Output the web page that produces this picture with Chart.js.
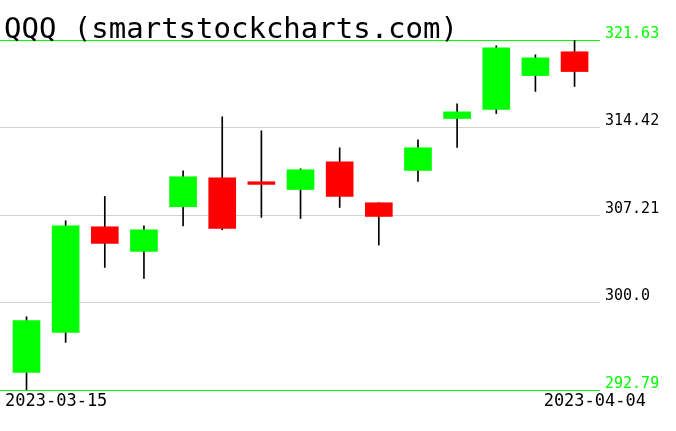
<!DOCTYPE html>
<html>
<head>
<meta charset="utf-8">
<script src="https://cdn.jsdelivr.net/npm/chart.js@4"></script>
<style>
  body { margin: 0; background: #fff; }
  #wrap { width: 676px; height: 431px; }
</style>
</head>
<body>
<div id="wrap"><canvas id="myChart" width="676" height="431"></canvas></div>
<script>
// daily candles, 2023-03-15 .. 2023-04-04
const dates = ['2023-03-15', '2023-03-16', '2023-03-17', '2023-03-20', '2023-03-21', '2023-03-22', '2023-03-23',
  '2023-03-24', '2023-03-27', '2023-03-28', '2023-03-29', '2023-03-30', '2023-03-31', '2023-04-03', '2023-04-04'];
const open  = [294.24, 297.53, 306.24, 304.21, 307.89, 310.28, 309.95, 309.31, 311.60, 308.22, 310.88, 315.16, 315.90, 318.70, 320.66];
const close = [298.50, 306.32, 304.87, 305.99, 310.36, 306.10, 309.73, 310.94, 308.74, 307.09, 312.75, 315.71, 320.99, 320.16, 319.03];
const high  = [298.83, 306.74, 308.74, 306.32, 310.85, 315.30, 314.15, 311.02, 312.75, 308.22, 313.41, 316.37, 321.15, 320.41, 321.63];
const low   = [292.79, 296.71, 302.89, 301.98, 306.32, 305.99, 307.01, 306.92, 307.83, 304.73, 309.97, 312.77, 315.57, 317.39, 317.80];
const yTicks = [292.79, 300.0, 307.21, 314.42, 321.63];
const yTickLabels = ['292.79', '300.0', '307.21', '314.42', '321.63'];

const GREEN = '#00ff00';
const RED = '#ff0000';

const ctx = document.getElementById('myChart');

const extraText = {
  id: 'extraText',
  afterDraw(chart) {
    const c = chart.ctx;
    c.save();
    c.fillStyle = '#000';
    c.textBaseline = 'alphabetic';
    c.font = '29px "DejaVu Sans Mono"';
    c.textAlign = 'left';
    c.fillText('QQQ (smartstockcharts.com)', 4, 38);
    c.font = '17px "DejaVu Sans Mono"';
    c.fillText(dates[0], 5, 406);
    c.textAlign = 'right';
    c.fillText(dates[dates.length - 1], 646, 406);
    c.restore();
  }
};

new Chart(ctx, {
  type: 'bar',
  data: {
    datasets: [{
      label: 'body',
      data: dates.map((d, i) => ({ x: i, y: [open[i], close[i]] })),
      backgroundColor: dates.map((d, i) => close[i] >= open[i] ? GREEN : RED),
      borderWidth: 0,
      barThickness: 27,
      grouped: false,
      order: 1
    }, {
      label: 'wick',
      data: dates.map((d, i) => ({ x: i, y: [low[i], high[i]] })),
      backgroundColor: '#000',
      borderWidth: 0,
      barThickness: 1,
      grouped: false,
      order: 2
    }]
  },
  options: {
    responsive: false,
    animation: false,
    layout: { padding: { top: 40, bottom: 41, left: 0, right: 0 } },
    plugins: { legend: { display: false }, tooltip: { enabled: false } },
    scales: {
      x: {
        type: 'linear',
        offset: false,
        min: -0.677,
        max: 14.65,
        display: false
      },
      y: {
        position: 'right',
        min: yTicks[0],
        max: yTicks[yTicks.length - 1],
        z: 1,
        afterFit(scale) { scale.width = 76; },
        afterBuildTicks(scale) { scale.ticks = yTicks.map(v => ({ value: v })); },
        border: { display: false },
        grid: {
          drawTicks: false,
          color: c => (c.index === 0 || c.index === yTicks.length - 1) ? GREEN : '#d3d3d3'
        },
        ticks: {
          padding: 5,
          labelOffset: -6,
          font: { family: '"DejaVu Sans Mono"', size: 15 },
          color: c => (c.index === 0 || c.index === yTicks.length - 1) ? GREEN : '#000',
          callback: (v, i) => yTickLabels[i]
        }
      }
    }
  },
  plugins: [extraText]
});
</script>
</body>
</html>
